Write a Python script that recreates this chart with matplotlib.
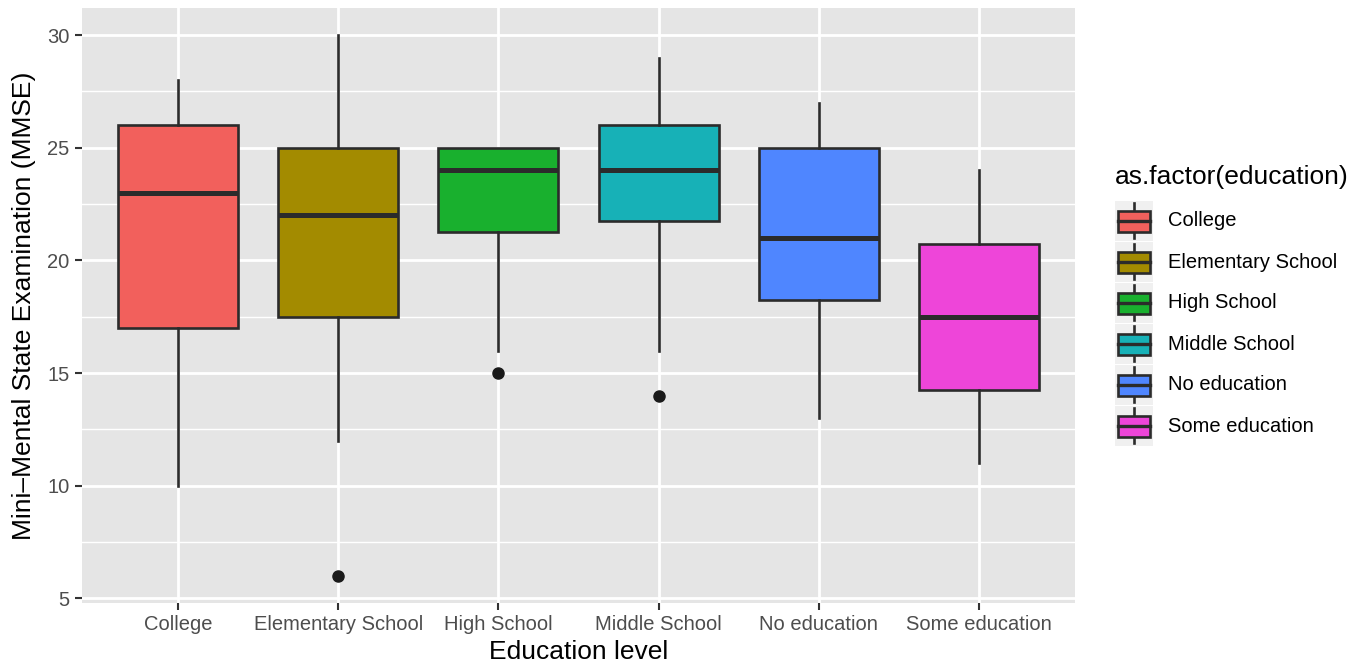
import matplotlib
matplotlib.use("Agg")
import matplotlib.pyplot as plt
from matplotlib.patches import Rectangle

plt.rcParams['font.family'] = ['Liberation Sans', 'DejaVu Sans']

# five-number summaries per education group
groups = ["College", "Elementary School", "High School",
          "Middle School", "No education", "Some education"]
whis_lo = [10, 12, 16, 16, 13, 11]
q1 = [17, 17.5, 21.25, 21.75, 18.25, 14.25]
median = [23, 22, 24, 24, 21, 17.5]
q3 = [26, 25, 25, 26, 25, 20.75]
whis_hi = [28, 30, 25, 29, 27, 24]
outliers = [[], [6], [15], [14], [], []]

fills = ["#F2605C", "#A38B00", "#19B02E", "#17B1B7", "#4F86FF", "#EE45D9"]
edge = "#2B2B2B"
panel = "#E5E5E5"

W, H = 1350, 663
fig = plt.figure(figsize=(W / 100, H / 100), dpi=100)
ax = fig.add_axes([82 / W, 1 - 603 / H, 993 / W, 595 / H])
ax.set_facecolor(panel)

stats = []
for i, g in enumerate(groups):
    stats.append(dict(label=g, whislo=whis_lo[i], q1=q1[i], med=median[i],
                      q3=q3[i], whishi=whis_hi[i], fliers=outliers[i]))

pos = list(range(1, len(groups) + 1))
bp = ax.bxp(stats, positions=pos, widths=0.75, patch_artist=True,
            showcaps=False, zorder=3,
            boxprops=dict(edgecolor=edge, linewidth=1.9),
            whiskerprops=dict(color=edge, linewidth=1.9),
            medianprops=dict(color=edge, linewidth=3.6),
            flierprops=dict(marker='o', markerfacecolor='#1A1A1A',
                            markeredgecolor='#1A1A1A', markersize=8))
for patch, c in zip(bp['boxes'], fills):
    patch.set_facecolor(c)

ax.set_xlim(0.4, len(groups) + 0.6)
ax.set_ylim(4.8, 31.2)
ax.set_yticks([5, 10, 15, 20, 25, 30])
ax.set_yticks([7.5, 12.5, 17.5, 22.5, 27.5], minor=True)
ax.set_xticks(pos)
ax.set_xticklabels(groups)

ax.grid(True, which='major', color='white', linewidth=2.0, zorder=0)
ax.grid(True, which='minor', axis='y', color='white', linewidth=1.0, zorder=0)
ax.set_axisbelow(True)
for s in ax.spines.values():
    s.set_visible(False)

ax.tick_params(axis='both', which='major', length=5, width=1.5, color='#333333',
               labelsize=14.5, labelcolor='#4D4D4D', pad=4)
ax.tick_params(axis='y', which='minor', length=0)

ax.set_xlabel("Education level", fontsize=19, color='black', labelpad=4)
ax.set_ylabel("Mini–Mental State Examination (MMSE)", fontsize=19,
              color='black', labelpad=8)

# legend drawn in figure pixel space
leg = fig.add_axes([0, 0, 1, 1], facecolor='none')
leg.set_xlim(0, W)
leg.set_ylim(H, 0)
leg.axis('off')
leg.text(1115, 177, "as.factor(education)", fontsize=19, va='center', ha='left')
for i, g in enumerate(groups):
    yc = 221 + 41 * i
    leg.add_patch(Rectangle((1115, yc - 20), 38, 40, facecolor='#F0F0F0',
                            edgecolor='none'))
    leg.plot([1134, 1134], [yc - 18, yc + 17], color=edge, lw=1.9)
    leg.add_patch(Rectangle((1118, yc - 10.5), 32, 21, facecolor=fills[i],
                            edgecolor=edge, lw=1.9, zorder=3))
    leg.plot([1118, 1150], [yc, yc], color=edge, lw=2.4, zorder=4)
    leg.text(1168, yc, g, fontsize=14.5, va='center', ha='left', color='black')

fig.savefig("out.png", dpi=100)
